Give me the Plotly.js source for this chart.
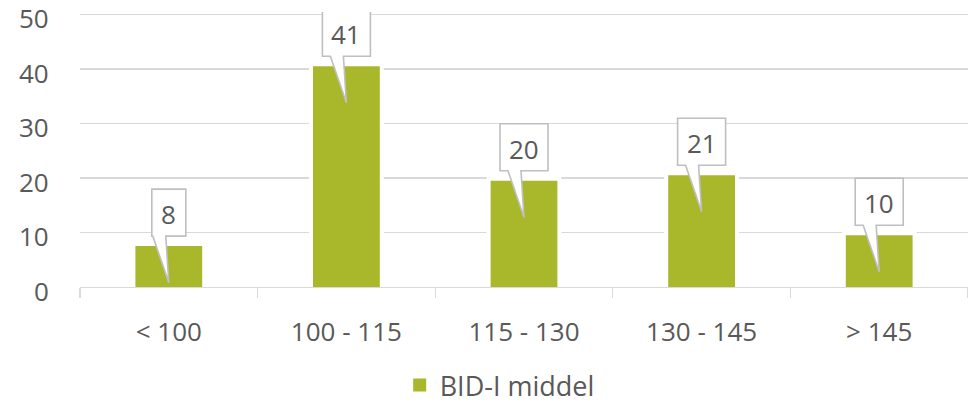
<!DOCTYPE html>
<html>
<head>
<meta charset="utf-8">
<script src="https://cdn.plot.ly/plotly-3.0.1.min.js"></script>
<style>html,body{margin:0;padding:0;background:#fff;}#chart{width:968px;height:404px;}</style>
</head>
<body>
<div id="chart"></div>
<script>
const categories = ["< 100", "100 - 115", "115 - 130", "130 - 145", "> 145"];
const values = [7.5, 40.5, 19.5, 20.5, 9.5];
const seriesName = "BID-I middel";
const yTicks = [0, 10, 20, 30, 40, 50];

const green = "#a8b82a";
const textColor = "#595959";
const gridColor = "#d9d9d9";
const fontFam = "'Open Sans', 'DejaVu Sans', sans-serif";

const labels = values.map(v => String(Math.round(v)));

// white halo behind the bars (interrupts gridlines next to bars)
const haloTrace = {
  type: "bar",
  x: categories,
  y: values,
  width: 0.376,
  marker: { color: "#ffffff", line: { color: "#ffffff", width: 8 } },
  hoverinfo: "skip",
  showlegend: false
};

const barTrace = {
  type: "bar",
  x: categories,
  y: values,
  name: seriesName,
  width: 0.376,
  marker: { color: green, line: { width: 0 } },
  hoverinfo: "skip",
  showlegend: false
};

// legend-only entry (square marker like the reference legend)
const legendTrace = {
  type: "scatter",
  mode: "markers",
  x: [categories[0]],
  y: [null],
  name: seriesName,
  marker: { symbol: "square", size: 13, color: green },
  hoverinfo: "skip",
  showlegend: true
};

const shapes = [];
const annotations = [];
values.forEach((v, i) => {
  const w = 20 + 14 * labels[i].length;
  const hw = w / 2;
  const path = `M ${-hw},10 L -16,10 L 0,-36.5 L -3,10 L ${hw},10 L ${hw},57 L ${-hw},57 Z`;
  shapes.push({
    type: "path",
    xref: "x", yref: "y",
    xsizemode: "pixel", ysizemode: "pixel",
    xanchor: i, yanchor: v,
    path: path,
    fillcolor: "#ffffff",
    line: { color: "#bfbfbf", width: 1.6 },
    layer: "above"
  });
  annotations.push({
    x: i, y: v, xref: "x", yref: "y",
    text: labels[i],
    showarrow: false,
    yshift: 32,
    font: { family: fontFam, size: 26, color: textColor }
  });
});

// y-axis tick labels (sit slightly below their gridlines, as in the reference)
yTicks.forEach(t => {
  annotations.push({
    x: 0, xref: "paper", y: t, yref: "y",
    xanchor: "right", yanchor: "middle",
    xshift: -29, yshift: -4,
    text: String(t),
    showarrow: false,
    font: { family: fontFam, size: 26, color: textColor }
  });
});

const layout = {
  width: 968, height: 404,
  margin: { l: 80, r: 0, t: 12, b: 117, pad: 0, autoexpand: false },
  paper_bgcolor: "#ffffff",
  plot_bgcolor: "#ffffff",
  font: { family: fontFam, color: textColor, size: 26 },
  barmode: "overlay",
  xaxis: {
    type: "category",
    automargin: false,
    showline: true, linecolor: gridColor, linewidth: 1.3,
    ticks: "outside", tickson: "boundaries", ticklen: 10, tickcolor: gridColor, tickwidth: 1.3,
    ticklabelstandoff: 21,
    ticklabeloverflow: "allow",
    tickfont: { family: fontFam, size: 26, color: textColor },
    showgrid: false, zeroline: false,
    fixedrange: true
  },
  yaxis: {
    range: [0, 50.45],
    automargin: false,
    tickvals: yTicks,
    showticklabels: false,
    showgrid: true, gridcolor: gridColor, gridwidth: 1.3,
    zeroline: false, showline: false, ticks: "",
    fixedrange: true
  },
  showlegend: true,
  legend: {
    orientation: "h",
    x: 0.36, xanchor: "left",
    y: -0.358, yanchor: "middle",
    font: { family: fontFam, size: 27, color: textColor },
    bgcolor: "rgba(0,0,0,0)"
  },
  shapes: shapes,
  annotations: annotations
};

Plotly.newPlot("chart", [haloTrace, barTrace, legendTrace], layout, { displayModeBar: false, staticPlot: true });
</script>
</body>
</html>
